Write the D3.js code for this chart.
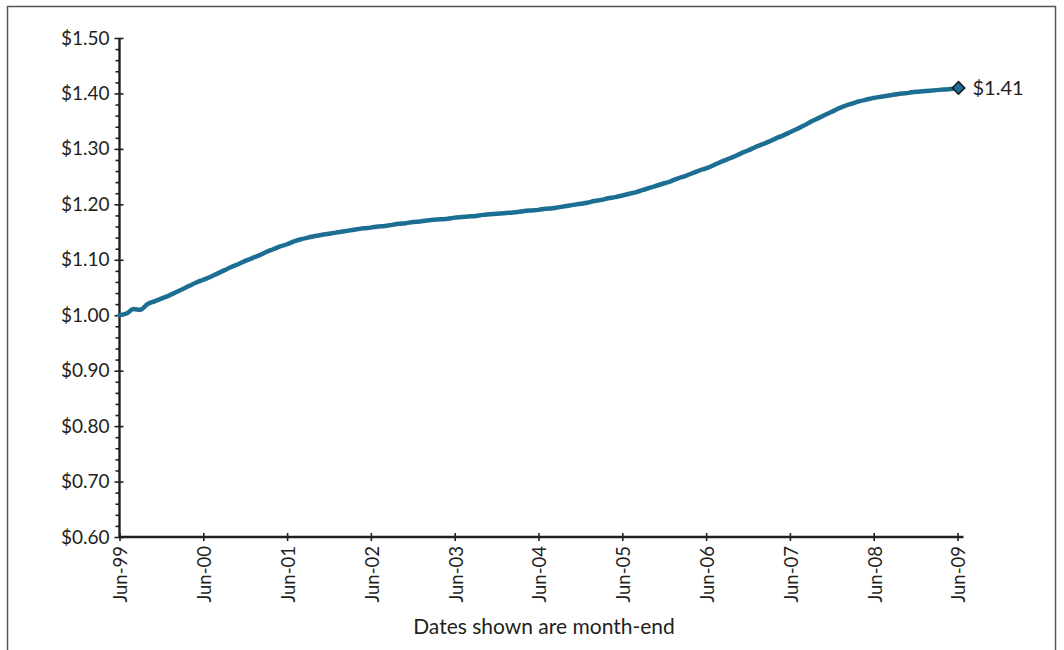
<!DOCTYPE html>
<html>
<head>
<meta charset="utf-8">
<script src="https://cdn.jsdelivr.net/npm/d3@7"></script>
<style>
  html, body { margin: 0; padding: 0; background: #fff; }
  svg { display: block; }
  text { font-family: Lato, "Open Sans", sans-serif; fill: #231f20; }
</style>
</head>
<body>
<svg id="chart" width="1064" height="650"></svg>
<script>
// Growth of $1, month-end values, Jun-99 through Jun-09 (index 0 = Jun-99)
const values = [
  1.000, 1.003, 1.011, 1.010, 1.020, 1.025, 1.030, 1.035, 1.041, 1.047, 1.053, 1.059,
  1.064, 1.069, 1.075, 1.081, 1.087, 1.092, 1.098, 1.103, 1.108, 1.114, 1.119, 1.124,
  1.128, 1.133, 1.137, 1.140, 1.143, 1.145, 1.147, 1.149, 1.151, 1.153, 1.155, 1.157,
  1.158, 1.160, 1.161, 1.163, 1.165, 1.166, 1.168, 1.169, 1.171, 1.172, 1.173, 1.174,
  1.176, 1.177, 1.178, 1.179, 1.181, 1.182, 1.183, 1.184, 1.185, 1.186, 1.188, 1.189,
  1.190, 1.192, 1.193, 1.195, 1.197, 1.199, 1.201, 1.203, 1.206, 1.208, 1.211, 1.213,
  1.216, 1.219, 1.222, 1.226, 1.230, 1.234, 1.238, 1.242, 1.247, 1.251, 1.256, 1.261,
  1.265, 1.270, 1.276, 1.281, 1.286, 1.292, 1.297, 1.303, 1.308, 1.313, 1.319, 1.324,
  1.330, 1.336, 1.342, 1.349, 1.355, 1.361, 1.367, 1.373, 1.378, 1.382, 1.386, 1.389,
  1.392, 1.394, 1.396, 1.398, 1.400, 1.401, 1.403, 1.404, 1.405, 1.406, 1.407, 1.408,
  1.410
];

// Year-end ticks every 12 months
const xTickMonths = [0, 12, 24, 36, 48, 60, 72, 84, 96, 108, 120];
const xTickLabels = ["Jun-99", "Jun-00", "Jun-01", "Jun-02", "Jun-03", "Jun-04",
                     "Jun-05", "Jun-06", "Jun-07", "Jun-08", "Jun-09"];
const yMajorTicks = [0.60, 0.70, 0.80, 0.90, 1.00, 1.10, 1.20, 1.30, 1.40, 1.50];
const yMinorTicks = d3.range(60, 151, 2).filter(v => v % 10 !== 0).map(v => v / 100);
const endLabel = "$1.41";
const xNote = "Dates shown are month-end";

const svg = d3.select("#chart");
const lineColor = "#1c6e92";
const axisColor = "#231f20";

// outer frame
svg.append("rect")
  .attr("x", 7.5).attr("y", 6.5)
  .attr("width", 1048).attr("height", 660)
  .attr("fill", "none").attr("stroke", "#555").attr("stroke-width", 1.5);

const x = d3.scaleLinear().domain([0, 120]).range([119.5, 957.5]);
const y = d3.scaleLinear().domain([0.60, 1.50]).range([537, 38]);

// y axis: minor ticks
svg.append("g")
  .attr("transform", "translate(119.5,0)")
  .call(d3.axisLeft(y).tickValues(yMinorTicks).tickSize(4).tickSizeOuter(0).tickFormat(""))
  .call(g => g.select(".domain").remove())
  .call(g => g.selectAll("line").attr("stroke", axisColor).attr("stroke-width", 1.6));

// y axis: major ticks with labels
svg.append("g")
  .attr("transform", "translate(119.5,0)")
  .call(d3.axisLeft(y).tickValues(yMajorTicks).tickSize(5).tickSizeOuter(0).tickPadding(5)
        .tickFormat(d => "$" + d.toFixed(2)))
  .call(g => g.select(".domain").remove())
  .call(g => g.selectAll("line").attr("x1", 4).attr("stroke", axisColor).attr("stroke-width", 1.6))
  .call(g => g.selectAll("text")
        .attr("font-family", "Lato, 'Open Sans', sans-serif")
        .attr("font-size", 19).attr("fill", axisColor));

// y axis line
svg.append("line")
  .attr("x1", x(0)).attr("x2", x(0))
  .attr("y1", y(1.50)).attr("y2", y(0.60))
  .attr("stroke", axisColor).attr("stroke-width", 2.4);

// x axis
const xAxisG = svg.append("g")
  .attr("transform", `translate(0,${y(0.60)})`)
  .call(d3.axisBottom(x).tickValues(xTickMonths).tickSize(4).tickSizeOuter(0)
        .tickFormat((d, i) => xTickLabels[i]))
  .call(g => g.select(".domain").remove())
  .call(g => g.selectAll("line").attr("y1", -4).attr("stroke", axisColor).attr("stroke-width", 1.6));

xAxisG.selectAll("text")
  .attr("font-family", "Lato, 'Open Sans', sans-serif")
  .attr("font-size", 18.5)
  .attr("fill", axisColor)
  .attr("text-anchor", "end")
  .attr("transform", "translate(1,9) rotate(-90)")
  .attr("x", 0).attr("y", 0)
  .attr("dy", "0.35em")
  .attr("dx", 0);

svg.append("line")
  .attr("x1", x(0)).attr("x2", x(120) + 6)
  .attr("y1", y(0.60)).attr("y2", y(0.60))
  .attr("stroke", axisColor).attr("stroke-width", 2.4);

// value line
const line = d3.line()
  .x((d, i) => x(i))
  .y(d => y(d))
  .curve(d3.curveMonotoneX);

svg.append("path")
  .datum(values)
  .attr("d", line)
  .attr("fill", "none")
  .attr("stroke", lineColor)
  .attr("stroke-width", 4.5)
  .attr("stroke-linejoin", "round")
  .attr("stroke-linecap", "round");

// end marker and label
const lastI = values.length - 1;
const lastV = values[lastI];
svg.append("path")
  .attr("d", d3.symbol().type(d3.symbolDiamond2).size(100)())
  .attr("transform", `translate(${x(lastI) + 1},${y(lastV)})`)
  .attr("fill", lineColor)
  .attr("stroke", "#1a1a1a")
  .attr("stroke-width", 1.5);

svg.append("text")
  .attr("x", x(lastI) + 15)
  .attr("y", y(lastV))
  .attr("dy", "0.36em")
  .attr("font-size", 20)
  .text(endLabel);

// footnote under the x axis
svg.append("text")
  .attr("x", 544)
  .attr("y", 634)
  .attr("text-anchor", "middle")
  .attr("font-size", 21)
  .text(xNote);
</script>
</body>
</html>
